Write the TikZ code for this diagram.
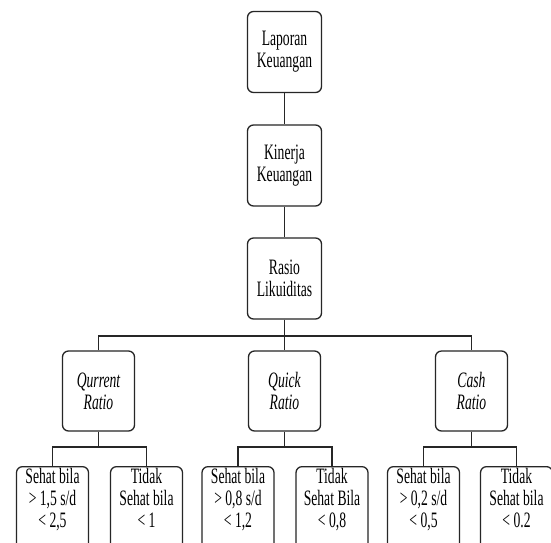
\documentclass[tikz,border=0pt]{standalone}
\usepackage{fontspec}
\setmainfont[FakeStretch=0.62]{Liberation Serif}
\begin{document}
\begin{tikzpicture}[x=1pt,y=-1pt,
  box/.style={draw=black!85, line width=1.3pt, rounded corners=6pt, fill=white,
    align=center, font=\fontsize{22}{22}\selectfont, inner sep=0pt},
  topbox/.style={box, minimum width=74pt, minimum height=81pt},
  midbox/.style={box, minimum width=72pt, minimum height=80pt, font=\fontsize{22}{22}\selectfont\itshape},
  leafbox/.style={box, anchor=north, minimum width=72pt, inner ysep=2pt, text depth=30pt},
  conn/.style={draw=black!85, line width=1.2pt}]
\useasboundingbox (0,0) rectangle (551,542);
\clip (0,0) rectangle (551,542);
\fill[white] (0,0) rectangle (551,542);

\node[topbox] (lap) at (284.5,52) {Laporan\\Keuangan};
\node[topbox] (kin) at (284.5,165.5) {Kinerja\\Keuangan};
\node[topbox] (ras) at (284.5,278.5) {Rasio\\Likuiditas};

\node[midbox] (cur) at (98.5,391) {Qurrent\\Ratio};
\node[midbox] (qui) at (284.5,391) {Quick\\Ratio};
\node[midbox] (cas) at (471.5,391) {Cash\\Ratio};

\coordinate (bar) at (284.5,336);
\coordinate (sub) at (0,447);

\node[leafbox] (l1) at (52.5,466) {Sehat bila\\> 1,5 s/d\\< 2,5};
\node[leafbox] (l2) at (146.5,466) {Tidak\\Sehat bila\\< 1};
\node[leafbox] (l3) at (238,466) {Sehat bila\\> 0,8 s/d\\< 1,2};
\node[leafbox] (l4) at (332,466) {Tidak\\Sehat Bila\\< 0,8};
\node[leafbox] (l5) at (423.5,466) {Sehat bila\\> 0,2 s/d\\< 0,5};
\node[leafbox] (l6) at (516.5,466) {Tidak\\Sehat bila\\< 0.2};

\draw[conn] (lap.south) -- (kin.north);
\draw[conn] (kin.south) -- (ras.north);
\draw[conn] (ras.south) -- (bar);
\draw[conn] (cur.north) -- (cur.north |- bar) -- (cas.north |- bar) -- (cas.north);
\draw[conn] (bar) -- (qui.north);

\draw[conn] (cur.south) -- (cur.south |- sub);
\draw[conn] (l1.north) -- (l1.north |- sub) -- (l2.north |- sub) -- (l2.north);
\draw[conn] (qui.south) -- (qui.south |- sub);
\draw[conn] (l3.north) -- (l3.north |- sub) -- (l4.north |- sub) -- (l4.north);
\draw[conn] (cas.south) -- (cas.south |- sub);
\draw[conn] (l5.north) -- (l5.north |- sub) -- (l6.north |- sub) -- (l6.north);
\end{tikzpicture}
\end{document}
